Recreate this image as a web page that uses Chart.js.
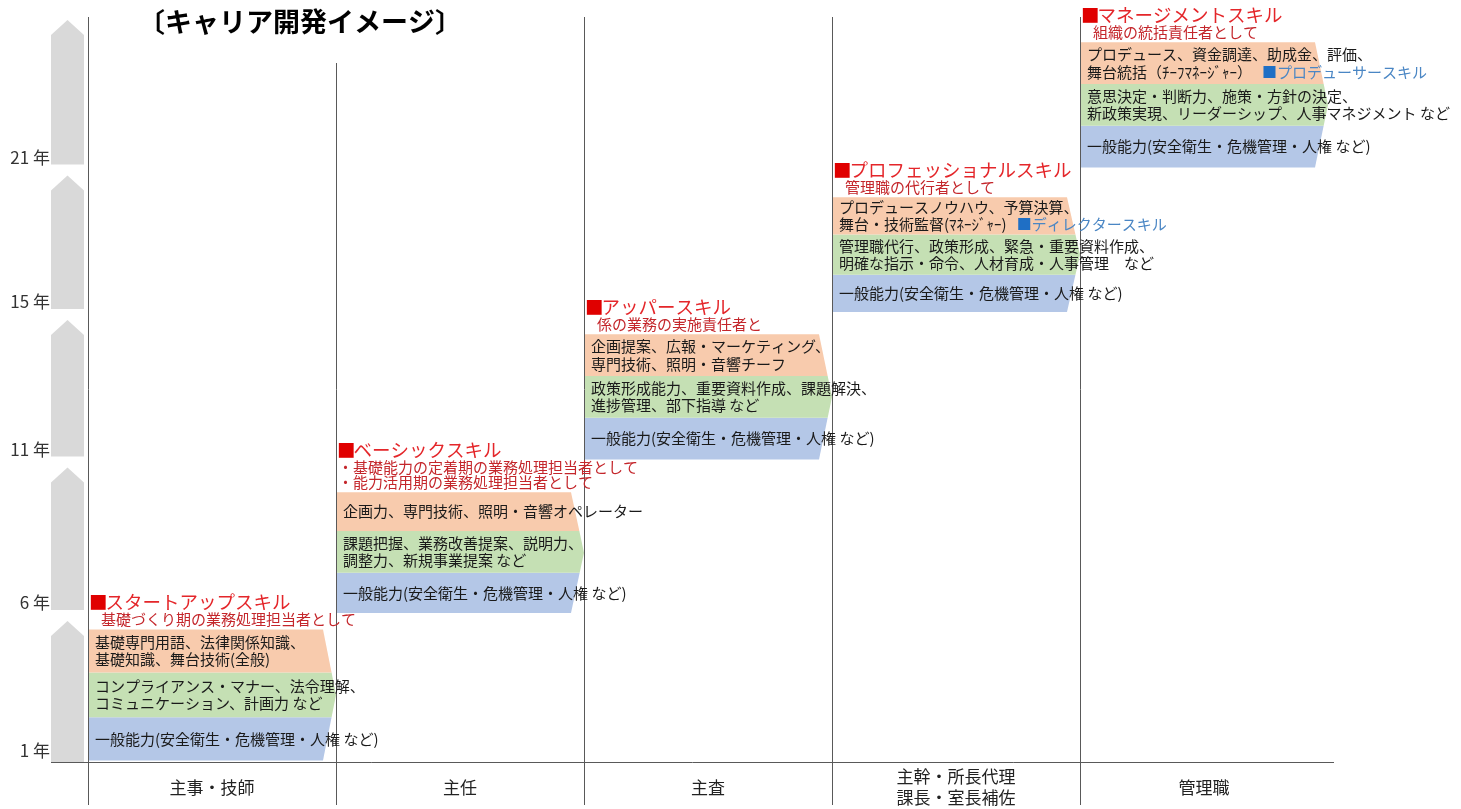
<!DOCTYPE html>
<html>
<head>
<meta charset="utf-8">
<script src="https://cdn.jsdelivr.net/npm/chart.js@4.4.1/dist/chart.umd.min.js"></script>
<style>
  html, body { margin: 0; padding: 0; background: #fff; }
  #wrap { width: 1461px; height: 809px; }
</style>
</head>
<body>
<div id="wrap"><canvas id="careerChart"></canvas></div>
<script>
// ranks along the bottom, years up the side
const ranks = ['主事・技師', '主任', '主査', ['主幹・所長代理', '課長・室長補佐'], '管理職'];
const yearLabels = ['1 年', '6 年', '11 年', '15 年', '21 年'];

// where each block starts (in steps) and how tall each band is
const stepBase = [0.01, 1.0, 2.03, 3.02, 3.99];
const blueSpan = [0.29, 0.27, 0.28, 0.25, 0.28];
const greenSpan = [0.30, 0.28, 0.28, 0.27, 0.28];
const orangeSpan = [0.29, 0.26, 0.28, 0.25, 0.28];

const skillNames = ['スタートアップスキル', 'ベーシックスキル', 'アッパースキル', 'プロフェッショナルスキル', 'マネージメントスキル'];
const skillRoles = [
  ['基礎づくり期の業務処理担当者として'],
  ['・基礎能力の定着期の業務処理担当者として', '・能力活用期の業務処理担当者として'],
  ['係の業務の実施責任者と'],
  ['管理職の代行者として'],
  ['組織の統括責任者として']
];
const orangeText = [
  ['基礎専門用語、法律関係知識、', '基礎知識、舞台技術(全般)'],
  ['企画力、専門技術、照明・音響オペレーター'],
  ['企画提案、広報・マーケティング、', '専門技術、照明・音響チーフ'],
  ['プロデュースノウハウ、予算決算、', '舞台・技術監督(ﾏﾈｰｼﾞｬｰ)'],
  ['プロデュース、資金調達、助成金、評価、', '舞台統括（ﾁｰﾌﾏﾈｰｼﾞｬｰ）']
];
const greenText = [
  ['コンプライアンス・マナー、法令理解、', 'コミュニケーション、計画力 など'],
  ['課題把握、業務改善提案、説明力、', '調整力、新規事業提案 など'],
  ['政策形成能力、重要資料作成、課題解決、', '進捗管理、部下指導 など'],
  ['管理職代行、政策形成、緊急・重要資料作成、', '明確な指示・命令、人材育成・人事管理　など'],
  ['意思決定・判断力、施策・方針の決定、', '新政策実現、リーダーシップ、人事マネジメント など']
];
const blueText = [
  ['一般能力(安全衛生・危機管理・人権 など)'],
  ['一般能力(安全衛生・危機管理・人権 など)'],
  ['一般能力(安全衛生・危機管理・人権 など)'],
  ['一般能力(安全衛生・危機管理・人権 など)'],
  ['一般能力(安全衛生・危機管理・人権 など)']
];
const extraSkill = [null, null, null, 'ディレクタースキル', 'プロデューサースキル'];

const FONT = '"Noto Sans CJK JP", "Noto Sans", sans-serif';

const blueData = stepBase.map((b, i) => [b, b + blueSpan[i]]);
const greenData = blueData.map((d, i) => [d[1], d[1] + greenSpan[i]]);
const orangeData = greenData.map((d, i) => [d[1], d[1] + orangeSpan[i]]);
const bandText = [blueText, greenText, orangeText];

// draws the chevron blocks, their texts and the headings
const blockPlugin = {
  id: 'careerBlocks',
  beforeDatasetDraw() { return false; },
  afterDatasetsDraw(chart) {
    const ctx = chart.ctx;
    const metas = [0, 1, 2].map(k => chart.getDatasetMeta(k));
    const depth = 13;
    for (let i = 0; i < ranks.length; i++) {
      const blue = metas[0].data[i], orange = metas[2].data[i];
      const left = blue.x - blue.width / 2 + 1;
      const right = blue.x + blue.width / 2;
      const top = orange.y, bottom = blue.base;
      const mid = (top + bottom) / 2, half = (bottom - top) / 2;
      const edge = y => right - depth * Math.abs(y - mid) / half;

      metas.forEach((m, k) => {
        const el = m.data[i];
        const t = el.y, b = el.base;
        ctx.save();
        ctx.fillStyle = chart.data.datasets[k].backgroundColor;
        ctx.beginPath();
        ctx.moveTo(left, t);
        ctx.lineTo(edge(t), t);
        if (t < mid && b > mid) ctx.lineTo(right, mid);
        ctx.lineTo(edge(b), b);
        ctx.lineTo(left, b);
        ctx.closePath();
        ctx.fill();

        const lines = bandText[k][i];
        const lh = 17.5;
        const cy = (t + b) / 2;
        ctx.font = '15px ' + FONT;
        ctx.fillStyle = '#1a1a1a';
        ctx.textBaseline = 'middle';
        ctx.textAlign = 'left';
        lines.forEach((ln, j) => {
          ctx.fillText(ln, left + 6, cy - (lines.length - 1) * lh / 2 + j * lh);
        });
        if (k === 2 && extraSkill[i]) {
          const last = lines[lines.length - 1];
          const ly = cy + (lines.length - 1) * lh / 2;
          let x = left + 6 + ctx.measureText(last).width + 10;
          ctx.fillStyle = '#1f6fc5';
          ctx.fillText('■', x, ly);
          x += ctx.measureText('■').width;
          ctx.fillStyle = '#4a86c4';
          ctx.fillText(extraSkill[i], x, ly);
        }
        ctx.restore();
      });

      // heading and role lines above the block
      ctx.save();
      ctx.textBaseline = 'middle';
      ctx.textAlign = 'left';
      const roles = skillRoles[i];
      const ry = top - 10 - (roles.length - 1) * 15.5;
      ctx.font = '15px ' + FONT;
      ctx.fillStyle = '#c4262b';
      roles.forEach((r, j) => {
        const rx = r.startsWith('・') ? left + 1 : left + 12;
        ctx.fillText(r, rx, ry + j * 15.5);
      });
      const hy = ry - 17;
      ctx.font = '18.5px ' + FONT;
      ctx.fillStyle = '#e00000';
      ctx.fillText('■', left, hy);
      const sq = ctx.measureText('■').width;
      ctx.fillStyle = '#e4262a';
      ctx.fillText(skillNames[i], left + sq - 2, hy);
      ctx.restore();
    }
  },
  afterDraw(chart) {
    const ctx = chart.ctx;
    const area = chart.chartArea;
    const y = chart.scales.y;

    // grey upward arrows along the year axis
    ctx.save();
    ctx.fillStyle = '#d9d9d9';
    const ax0 = area.left - 37, ax1 = area.left - 4;
    for (let i = 0; i < stepBase.length; i++) {
      const bottom = i === 0 ? area.bottom : y.getPixelForValue(stepBase[i]) - 3;
      const tip = i < stepBase.length - 1 ? y.getPixelForValue(stepBase[i + 1]) + 8 : area.top + 3;
      ctx.beginPath();
      ctx.moveTo(ax0, bottom);
      ctx.lineTo(ax0, tip + 15);
      ctx.lineTo((ax0 + ax1) / 2, tip);
      ctx.lineTo(ax1, tip + 15);
      ctx.lineTo(ax1, bottom);
      ctx.closePath();
      ctx.fill();
    }
    ctx.restore();

    // base line
    ctx.save();
    ctx.strokeStyle = '#595959';
    ctx.lineWidth = 1;
    ctx.beginPath();
    ctx.moveTo(ax0, Math.round(area.bottom) + 0.5);
    ctx.lineTo(area.right + 6, Math.round(area.bottom) + 0.5);
    ctx.stroke();
    ctx.restore();

    // title on a white box
    ctx.save();
    ctx.fillStyle = '#fff';
    ctx.fillRect(area.left + 14, 0, 370, 63);
    ctx.font = 'bold 27px ' + FONT;
    ctx.fillStyle = '#000';
    ctx.textBaseline = 'middle';
    ctx.textAlign = 'left';
    ctx.fillText('〔キャリア開発イメージ〕', 138, 22);
    ctx.restore();
  }
};

new Chart(document.getElementById('careerChart'), {
  type: 'bar',
  data: {
    labels: ranks,
    datasets: [
      { label: 'blue', data: blueData, backgroundColor: '#b4c7e7' },
      { label: 'green', data: greenData, backgroundColor: '#c5e0b4' },
      { label: 'orange', data: orangeData, backgroundColor: '#f8cbad' }
    ]
  },
  options: {
    responsive: true,
    maintainAspectRatio: false,
    animation: false,
    datasets: { bar: { grouped: false, barPercentage: 1, categoryPercentage: 1 } },
    layout: { padding: { top: 17, right: 133, bottom: 0, left: 0 } },
    plugins: { legend: { display: false }, tooltip: { enabled: false } },
    scales: {
      x: {
        grid: {
          offset: true,
          color: c => c.tick ? '#595959' : 'rgba(0,0,0,0)',
          lineWidth: 1,
          tickLength: 43
        },
        border: { display: false },
        afterFit: s => { s.height = 47; },
        ticks: {
          padding: -28,
          crossAlign: 'center',
          maxRotation: 0,
          autoSkip: false,
          color: '#222',
          font: { size: 17, family: FONT }
        }
      },
      y: {
        min: 0,
        max: 5,
        grid: { display: false, drawTicks: true, tickLength: 38 },
        border: { display: false },
        afterBuildTicks: s => { s.ticks = stepBase.map(v => ({ value: v + 0.07 })); },
        afterFit: s => { s.width = 88; },
        ticks: {
          padding: 0,
          color: '#333',
          font: { size: 17, family: FONT },
          callback: (v, i) => yearLabels[i]
        }
      }
    }
  },
  plugins: [blockPlugin]
});
</script>
</body>
</html>
